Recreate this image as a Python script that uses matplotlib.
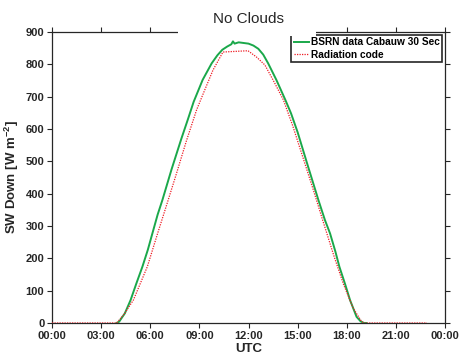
import matplotlib
matplotlib.use('Agg')
import matplotlib.pyplot as plt
from matplotlib.patches import Rectangle

# hours UTC and SW down [W m-2]
bsrn_hours = [3.95, 4.1, 4.45, 4.8, 5.15, 5.52, 5.85, 6.13, 6.45, 6.74, 7.3, 7.9, 8.3, 8.65,
              9.2, 9.75, 10.1, 10.4, 10.7, 10.95, 11.05, 11.15, 11.4, 11.7, 12.0, 12.3,
              12.6, 12.9, 13.2, 13.7, 14.25, 14.6, 15.0, 15.6, 16.27, 16.67, 16.98,
              17.3, 17.55, 17.9, 18.2, 18.6, 18.85, 19.05, 19.2]
bsrn_values = [0, 4, 30, 71, 122, 174, 226, 277, 335, 380, 475, 570, 630, 684,
               752, 803, 828, 845, 855, 862, 871, 864, 868, 866, 864, 858,
               848, 830, 803, 752, 690, 648, 590, 490, 380, 318, 277,
               222, 174, 120, 71, 19, 5, 0, 0]

code_hours = [0.0, 3.95, 4.4, 4.97, 5.82, 6.45, 7.0, 7.6, 8.2, 8.83, 9.2, 9.83, 10.44,
              11.2, 11.97, 12.5, 13.0, 13.6, 14.13, 14.7, 15.4, 16.0, 16.53, 17.2,
              17.8, 18.4, 18.9, 19.05, 22.9]
code_values = [0, 0, 27, 71, 174, 277, 365, 462, 562, 659, 705, 782, 838,
               840, 842, 822, 798, 742, 690, 610, 500, 405, 318, 210,
               120, 45, 5, 0, 0]

x_ticks = [0, 3, 6, 9, 12, 15, 18, 21, 24]
x_tick_labels = ['00:00', '03:00', '06:00', '09:00', '12:00', '15:00', '18:00', '21:00', '00:00']
y_ticks = list(range(0, 901, 100))

plt.rcParams['font.family'] = 'Liberation Sans'
plt.rcParams['mathtext.fontset'] = 'custom'
plt.rcParams['mathtext.rm'] = 'Liberation Sans:bold'
plt.rcParams['mathtext.it'] = 'Liberation Sans:bold'

dark = '#262626'

fig = plt.figure(figsize=(4.61, 3.59), dpi=100)
ax = fig.add_axes([0.1128, 0.1003, 0.8525, 0.8106])

ax.plot(bsrn_hours, bsrn_values, color='#1aa84a', lw=1.4, label='BSRN data Cabauw 30 Sec', zorder=3)
ax.plot(code_hours, code_values, color='#ee1c24', lw=0.9, ls=(0, (1, 1)), label='Radiation code', zorder=4)

ax.set_xlim(0, 24)
ax.set_ylim(0, 900)
ax.set_xticks(x_ticks)
ax.set_xticklabels(x_tick_labels)
ax.set_yticks(y_ticks)
ax.tick_params(direction='out', length=3.5, width=0.8, color=dark, labelcolor=dark,
               labelsize=8, top=True, right=True, pad=2)
for lab in ax.get_xticklabels() + ax.get_yticklabels():
    lab.set_fontweight('bold')
for sp in ax.spines.values():
    sp.set_color(dark)
    sp.set_linewidth(0.9)

ax.set_xlabel('UTC', fontsize=9.5, fontweight='bold', color=dark, labelpad=2)
ax.set_ylabel('SW Down [W m$^{-2}$]', fontsize=9.5, fontweight='bold', color=dark, labelpad=3)

# title box hides part of the top axis, like the original
ax.add_patch(Rectangle((0.3206, 0.985), 0.351, 0.06, transform=ax.transAxes,
                       facecolor='white', edgecolor='none', clip_on=False, zorder=10))
ax.text(0.5, 1.022, 'No Clouds', transform=ax.transAxes, ha='center', va='bottom',
        fontsize=11, color=dark, zorder=11)

leg = ax.legend(loc='upper right', fancybox=False, framealpha=1, edgecolor=dark,
                handlelength=1.5, handletextpad=0.2, borderpad=0.25,
                labelspacing=0.25, borderaxespad=0.25, prop={'weight': 'bold', 'size': 7.3})
leg.get_frame().set_linewidth(1.2)

fig.savefig('out.png', dpi=100)
